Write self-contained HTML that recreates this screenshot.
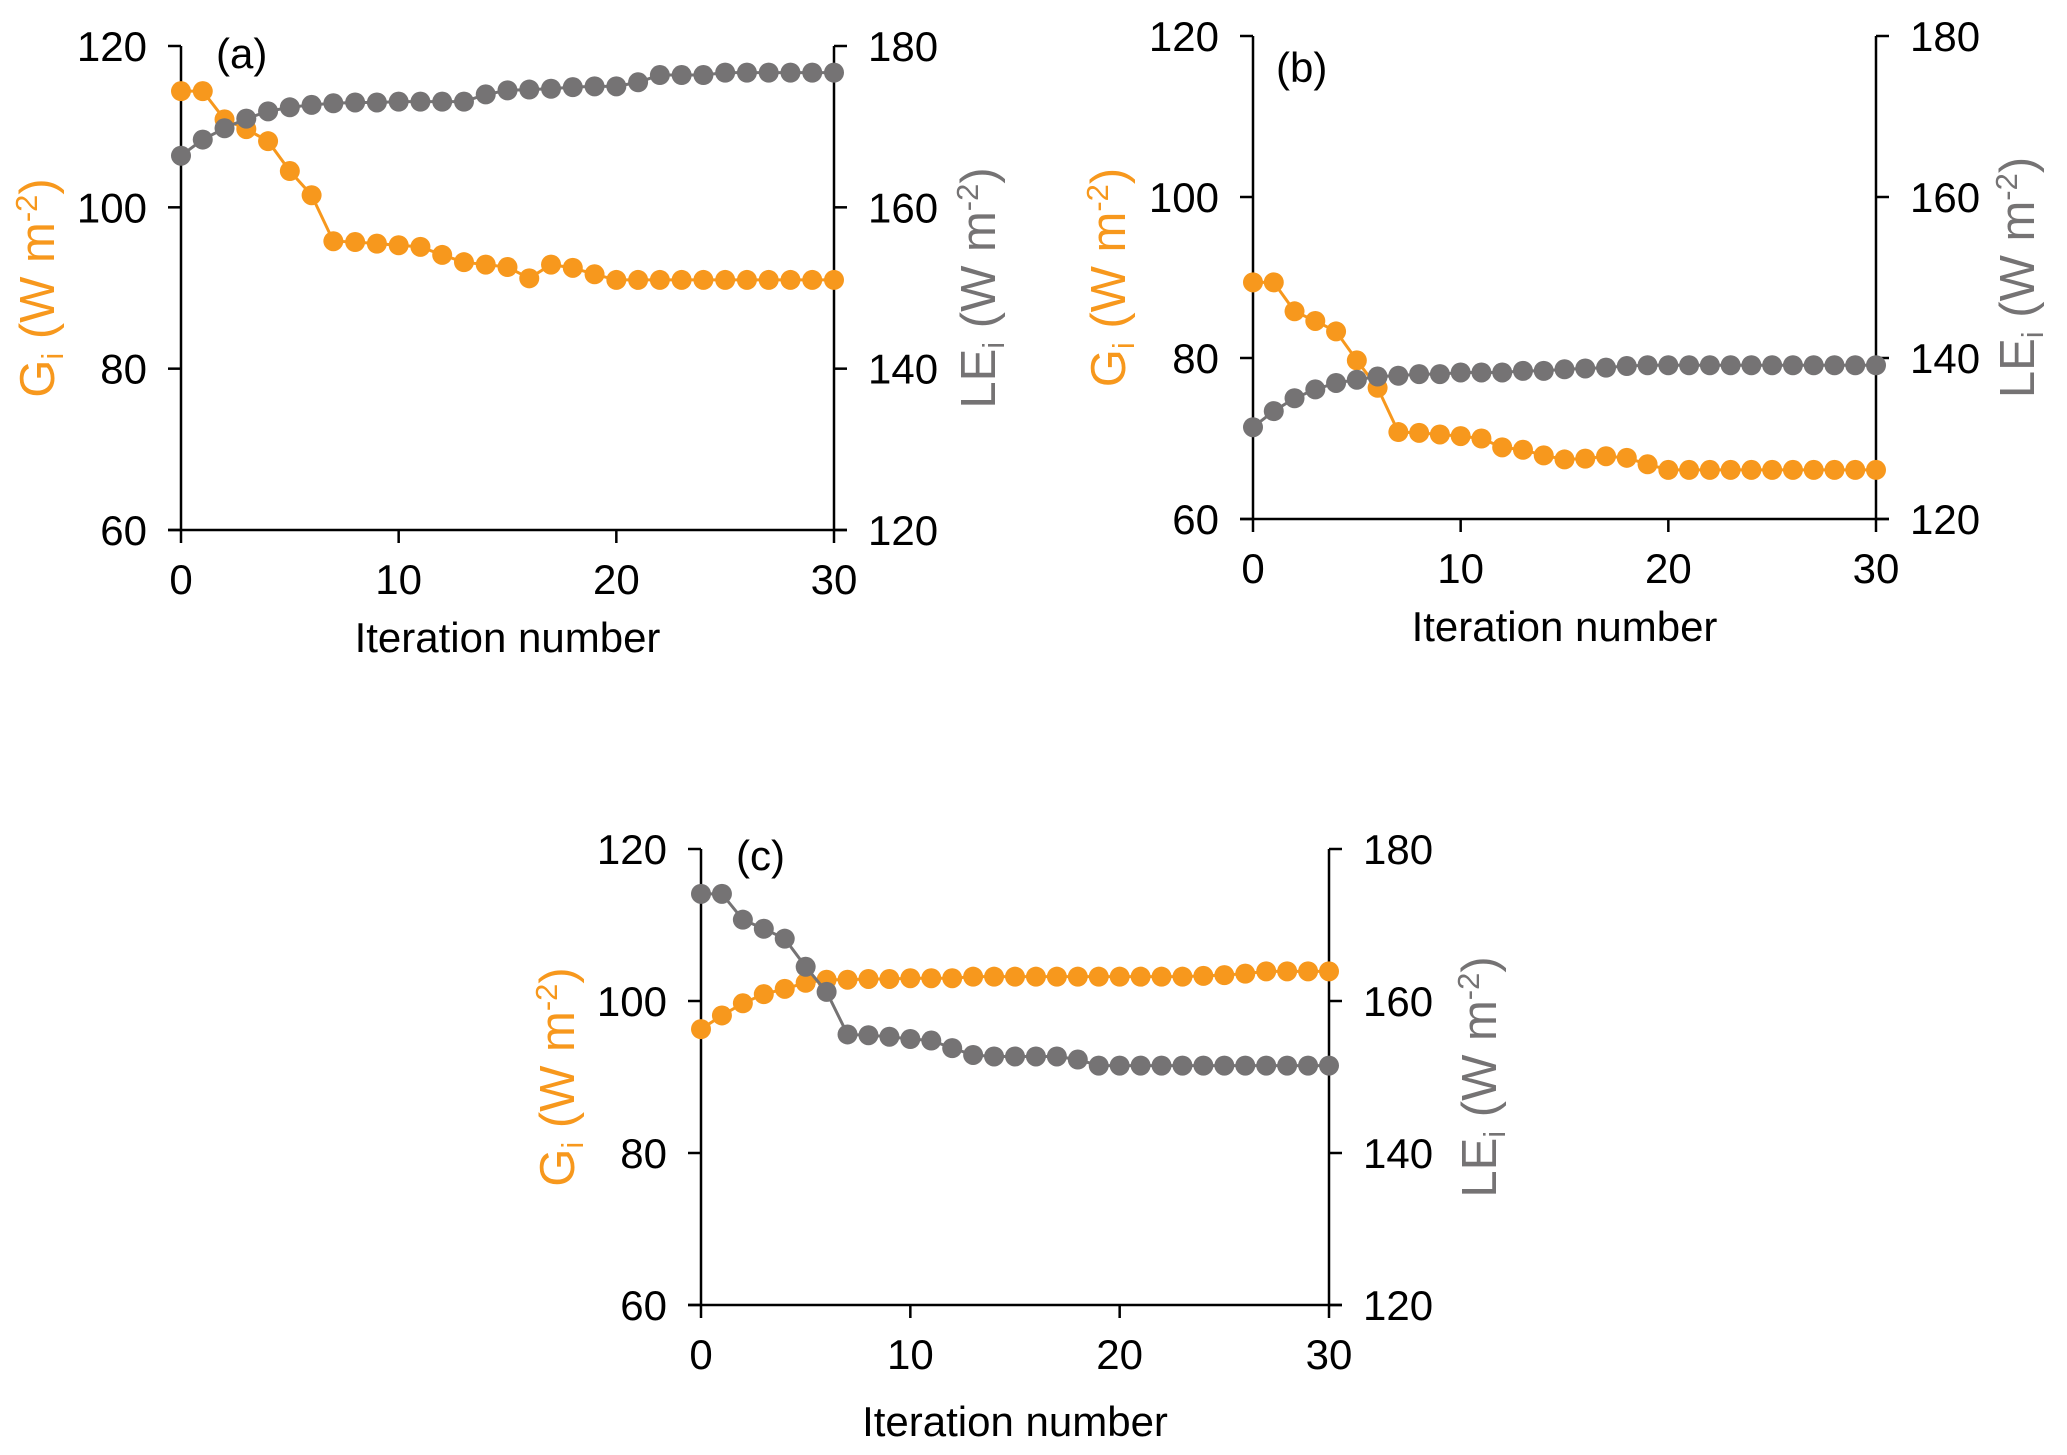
<!DOCTYPE html>
<html><head><meta charset="utf-8"><style>
html,body{margin:0;padding:0;background:#fff;}
svg{display:block;font-family:"Liberation Sans",Arial,sans-serif;}
</style></head><body>
<svg id="chart" width="2067" height="1455" viewBox="0 0 2067 1455" xmlns="http://www.w3.org/2000/svg"></svg>
<script>
const iterations = Array.from({length:31},(_,i)=>i);
const xTicks = [0,10,20,30];
const leftTicks = [60,80,100,120];
const rightTicks = [120,140,160,180];
const gA = [114.4,114.4,110.9,109.7,108.2,104.5,101.5,95.8,95.7,95.5,95.3,95.1,94.1,93.2,92.9,92.6,91.2,92.9,92.5,91.7,91.0,91.0,91.0,91.0,91.0,91.0,91.0,91.0,91.0,91.0,91.0];
const leA = [166.4,168.4,169.8,171.0,171.9,172.4,172.7,172.9,173.0,173.0,173.1,173.1,173.1,173.1,174.0,174.5,174.6,174.7,174.9,175.0,175.0,175.5,176.4,176.4,176.4,176.7,176.7,176.7,176.7,176.7,176.7];
const gB = [89.4,89.4,85.8,84.6,83.3,79.7,76.3,70.8,70.7,70.5,70.3,70.0,68.9,68.6,67.9,67.4,67.5,67.8,67.6,66.8,66.1,66.1,66.1,66.1,66.1,66.1,66.1,66.1,66.1,66.1,66.1];
const leB = [131.4,133.4,135.0,136.1,136.9,137.3,137.7,137.8,138.0,138.0,138.2,138.2,138.2,138.4,138.4,138.6,138.7,138.8,139.0,139.1,139.1,139.1,139.1,139.1,139.1,139.1,139.1,139.1,139.1,139.1,139.1];
const gC = [96.3,98.1,99.7,100.9,101.6,102.4,102.8,102.8,102.9,102.9,103.0,103.0,103.0,103.2,103.2,103.2,103.2,103.2,103.2,103.2,103.2,103.2,103.2,103.2,103.3,103.4,103.6,103.9,103.9,103.9,103.9];
const leC = [174.1,174.1,170.7,169.5,168.2,164.5,161.2,155.6,155.5,155.3,155.0,154.8,153.8,152.9,152.7,152.7,152.7,152.7,152.3,151.5,151.5,151.5,151.5,151.5,151.5,151.5,151.5,151.5,151.5,151.5,151.5];

const NS="http://www.w3.org/2000/svg";
const svg=document.getElementById('chart');
const ORANGE="#F7981D", GRAY="#757374";
function mk(tag,attrs,parent){const e=document.createElementNS(NS,tag);for(const k in attrs)e.setAttribute(k,attrs[k]);(parent||svg).appendChild(e);return e;}

function panel(id,L,R,T,B,label,gData,leData,gTitle,leTitle,xTitleY,labelPos){
  const g=mk('g',{});
  
  
  const xs=v=>L+(v-0)/30*(R-L);
  const yl=v=>B-(v-60)/60*(B-T);
  const yr=v=>B-(v-120)/60*(B-T);
  const ax={stroke:'#000','stroke-width':2.5,fill:'none'};
  let e=mk('line',Object.assign({x1:L,y1:T,x2:L,y2:B},ax),g);
  
  
  e=mk('line',Object.assign({x1:R,y1:T,x2:R,y2:B},ax),g);
  
  
  e=mk('line',Object.assign({x1:L-13,y1:B,x2:R+13,y2:B},ax),g);
  
  
  leftTicks.forEach(v=>{
    mk('line',Object.assign({x1:L-13,y1:yl(v),x2:L,y2:yl(v)},ax),g);
    const t=mk('text',{x:L-34,y:yl(v)+15,'font-size':42,'text-anchor':'end',fill:'#000'},g);
    t.textContent=v;
    
    
  });
  rightTicks.forEach(v=>{
    mk('line',Object.assign({x1:R,y1:yr(v),x2:R+13,y2:yr(v)},ax),g);
    const t=mk('text',{x:R+34,y:yr(v)+15,'font-size':42,'text-anchor':'start',fill:'#000'},g);
    t.textContent=v;
    
    
  });
  xTicks.forEach(v=>{
    mk('line',Object.assign({x1:xs(v),y1:B,x2:xs(v),y2:B+13},ax),g);
    const t=mk('text',{x:xs(v),y:B+64,'font-size':42,'text-anchor':'middle',fill:'#000'},g);
    t.textContent=v;
    
    
  });
  let t=mk('text',{x:(L+R)/2,y:xTitleY,'font-size':42,'text-anchor':'middle',fill:'#000'},g);
  t.textContent='Iteration number';
  
  
  const cy=(T+B)/2;
  function ytitle(x,main,color,name){
    const tt=mk('text',{x:0,y:0,'font-size':49,'text-anchor':'middle',fill:color,transform:`translate(${x},${cy}) rotate(-90)`},g);
    tt.innerHTML=`${main}<tspan font-size="31" dy="9">i</tspan><tspan dy="-9"> (W m</tspan><tspan font-size="31" dy="-17">-2</tspan><tspan dy="17">)</tspan>`;
    
    
  }
  ytitle(gTitle,'G',ORANGE,'left-y-axis-title');
  ytitle(leTitle,'LE',GRAY,'right-y-axis-title');
  t=mk('text',{x:labelPos[0],y:labelPos[1],'font-size':42,fill:'#000'},g);
  t.textContent=label;
  
  
  function series(data,yf,color,name){
    const sg=mk('g',{},g);
    
    
    const p=mk('polyline',{points:data.map((v,i)=>xs(iterations[i])+','+yf(v)).join(' '),fill:'none',stroke:color,'stroke-width':3},sg);
    
    
    data.forEach((v,i)=>{
      const c=mk('circle',{cx:xs(iterations[i]),cy:yf(v),r:10,fill:color},sg);
      
      
    });
  }
  series(gData,yl,ORANGE,'g-series');
  series(leData,yr,GRAY,'le-series');
}
panel('a',181,834,46,530,'(a)',gA,leA,54,995,652,[216,68]);
panel('b',1253,1876,36,519,'(b)',gB,leB,1125,2034,641,[1276,82]);
panel('c',701,1329,849,1305,'(c)',gC,leC,574,1496,1436,[736,870]);
</script>
</body></html>
